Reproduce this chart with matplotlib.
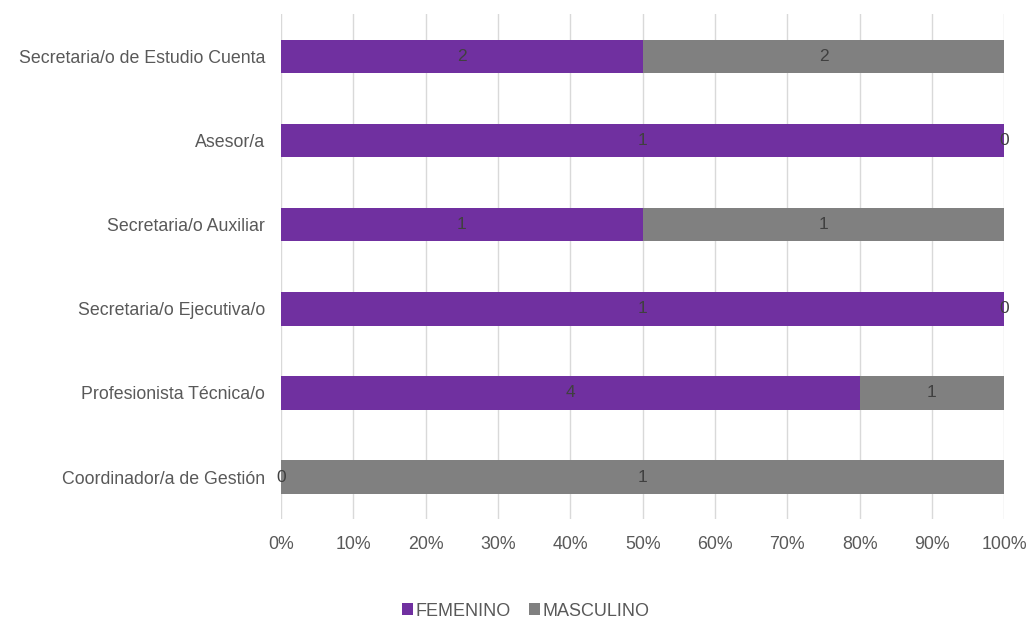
import numpy as np
import matplotlib.pyplot as plt
from matplotlib.ticker import PercentFormatter

puestos = [
    "Coordinador/a de Gestión",
    "Profesionista Técnica/o",
    "Secretaria/o Ejecutiva/o",
    "Secretaria/o Auxiliar",
    "Asesor/a",
    "Secretaria/o de Estudio Cuenta",
]
femenino = [0, 4, 1, 1, 1, 2]
masculino = [1, 1, 0, 1, 0, 2]

plt.rcParams["font.family"] = ["Liberation Sans", "DejaVu Sans"]

fem = np.array(femenino, dtype=float)
mas = np.array(masculino, dtype=float)
total = fem + mas
fem_pct = fem / total
mas_pct = mas / total

fig = plt.figure(figsize=(10.29, 6.21), dpi=100)
ax = fig.add_axes([0.273, 0.164, 0.703, 0.813])

y = np.arange(len(puestos))
b1 = ax.barh(y, fem_pct, height=0.4, color="#7030A0", label="FEMENINO", zorder=2)
b2 = ax.barh(y, mas_pct, left=fem_pct, height=0.4, color="#808080", label="MASCULINO", zorder=2)

for i in range(len(puestos)):
    ax.text(fem_pct[i] / 2, y[i], str(femenino[i]), ha="center", va="center",
            fontsize=12.5, color="#404040", zorder=3)
    ax.text(fem_pct[i] + mas_pct[i] / 2, y[i], str(masculino[i]), ha="center", va="center",
            fontsize=12.5, color="#404040", zorder=3)

ax.set_xlim(0, 1)
ax.set_ylim(-0.5, len(puestos) - 0.5)
ax.set_xticks(np.linspace(0, 1, 11))
ax.xaxis.set_major_formatter(PercentFormatter(1.0, decimals=0))
ax.set_yticks(y)
ax.set_yticklabels(puestos)
ax.tick_params(axis="both", length=0, labelsize=12.8, labelcolor="#595959")
ax.tick_params(axis="x", pad=12)
ax.tick_params(axis="y", pad=11.5)
ax.grid(axis="x", color="#D9D9D9", linewidth=1, zorder=0)
for s in ax.spines.values():
    s.set_visible(False)

fig.legend(handles=[b1, b2], loc="center", bbox_to_anchor=(0.511, 0.016), ncol=2,
           frameon=False, fontsize=13, handlelength=0.6, handleheight=0.6,
           handletextpad=0.15, columnspacing=1.0, labelcolor="#595959")

fig.savefig("out.png", dpi=100)
